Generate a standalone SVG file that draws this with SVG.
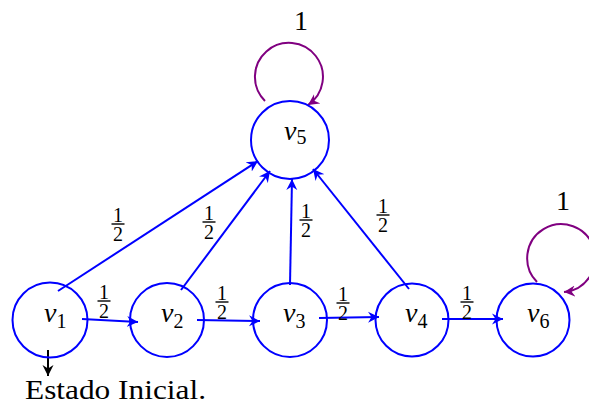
<svg xmlns="http://www.w3.org/2000/svg" width="589" height="405" viewBox="0 0 589 405">
<style>
.node{fill:none;stroke:#0000ff;stroke-width:2}
.e{fill:none;stroke:#0000ff;stroke-width:2}
.loop{fill:none;stroke:#800080;stroke-width:2}
.v{font-style:italic;font-size:28px;fill:#000}
.sub{font-style:normal;font-size:20px}
.fr{font-size:20px;fill:#000;text-anchor:middle}
.bar{stroke:#000;stroke-width:1.4}
.t{font-size:28px;fill:#000}
</style>
<defs>
<marker id="ab" viewBox="0 -6 13 12" markerWidth="13" markerHeight="12" refX="11" refY="0" orient="auto" markerUnits="userSpaceOnUse"><path d="M11,0 L0,-5.5 L3.5,0 L0,5.5 Z" fill="#0000ff"/></marker>
<marker id="ap" viewBox="0 -6 13 12" markerWidth="13" markerHeight="12" refX="11" refY="0" orient="auto" markerUnits="userSpaceOnUse"><path d="M11,0 L0,-5.5 L3.5,0 L0,5.5 Z" fill="#800080"/></marker>
<marker id="ak" viewBox="0 -6 13 12" markerWidth="13" markerHeight="12" refX="11" refY="0" orient="auto" markerUnits="userSpaceOnUse"><path d="M11,0 L0,-5.5 L3.5,0 L0,5.5 Z" fill="#000"/></marker>
</defs>
<g font-family="'Liberation Serif', 'Times New Roman', serif">
<g id="connectors">
<path class="e" d="M82,319 L138,322" marker-end="url(#ab)"/>
<path class="e" d="M197,320 L260,321" marker-end="url(#ab)"/>
<path class="e" d="M319,318 L379,317" marker-end="url(#ab)"/>
<path class="e" d="M442,319 L503,319" marker-end="url(#ab)"/>
<path class="e" d="M58,291 L258,161" marker-end="url(#ab)"/>
<path class="e" d="M181,290 L270,171" marker-end="url(#ab)"/>
<path class="e" d="M290,285 L292,179" marker-end="url(#ab)"/>
<path class="e" d="M409,289 L313,169" marker-end="url(#ab)"/>
<path class="loop" d="M265,101 A34,34 0 1 1 308,105" marker-end="url(#ap)"/>
<path class="loop" d="M537,282 A34,34 0 1 1 564,292" marker-end="url(#ap)"/>
<path d="M48,350 L48,376" stroke="#000" stroke-width="2" fill="none" marker-end="url(#ak)"/>
<g transform="translate(104,301)"><text class="fr" x="0" y="-2">1</text><line class="bar" x1="-6.5" y1="0" x2="6.5" y2="0"/><text class="fr" x="0" y="17">2</text></g>
<g transform="translate(222,302)"><text class="fr" x="0" y="-2">1</text><line class="bar" x1="-6.5" y1="0" x2="6.5" y2="0"/><text class="fr" x="0" y="17">2</text></g>
<g transform="translate(343,303)"><text class="fr" x="0" y="-2">1</text><line class="bar" x1="-6.5" y1="0" x2="6.5" y2="0"/><text class="fr" x="0" y="17">2</text></g>
<g transform="translate(467,302)"><text class="fr" x="0" y="-2">1</text><line class="bar" x1="-6.5" y1="0" x2="6.5" y2="0"/><text class="fr" x="0" y="17">2</text></g>
<g transform="translate(118,224)"><text class="fr" x="0" y="-2">1</text><line class="bar" x1="-6.5" y1="0" x2="6.5" y2="0"/><text class="fr" x="0" y="17">2</text></g>
<g transform="translate(209,222)"><text class="fr" x="0" y="-2">1</text><line class="bar" x1="-6.5" y1="0" x2="6.5" y2="0"/><text class="fr" x="0" y="17">2</text></g>
<g transform="translate(306,220)"><text class="fr" x="0" y="-2">1</text><line class="bar" x1="-6.5" y1="0" x2="6.5" y2="0"/><text class="fr" x="0" y="17">2</text></g>
<g transform="translate(383,215)"><text class="fr" x="0" y="-2">1</text><line class="bar" x1="-6.5" y1="0" x2="6.5" y2="0"/><text class="fr" x="0" y="17">2</text></g>
<text class="t" x="301" y="30" text-anchor="middle">1</text>
<text class="t" x="563" y="210" text-anchor="middle">1</text>
</g>
<g id="v1"><circle class="node" cx="50" cy="320" r="37.5"/><text class="v" x="44" y="322">v<tspan class="sub" dy="6">1</tspan></text></g>
<g id="v2"><circle class="node" cx="167" cy="320" r="37"/><text class="v" x="161" y="322">v<tspan class="sub" dy="6">2</tspan></text></g>
<g id="v3"><circle class="node" cx="290" cy="320" r="37"/><text class="v" x="283" y="322">v<tspan class="sub" dy="6">3</tspan></text></g>
<g id="v4"><circle class="node" cx="412" cy="320" r="36.5"/><text class="v" x="405" y="322">v<tspan class="sub" dy="6">4</tspan></text></g>
<g id="v5"><circle class="node" cx="290" cy="140" r="39"/><text class="v" x="284" y="140">v<tspan class="sub" dy="4">5</tspan></text></g>
<g id="v6"><circle class="node" cx="533" cy="320" r="36.5"/><text class="v" x="527" y="322">v<tspan class="sub" dy="6">6</tspan></text></g>
<g id="init"><text class="t" x="25" y="399" textLength="181" lengthAdjust="spacingAndGlyphs">Estado Inicial.</text></g>
</g>
</svg>
